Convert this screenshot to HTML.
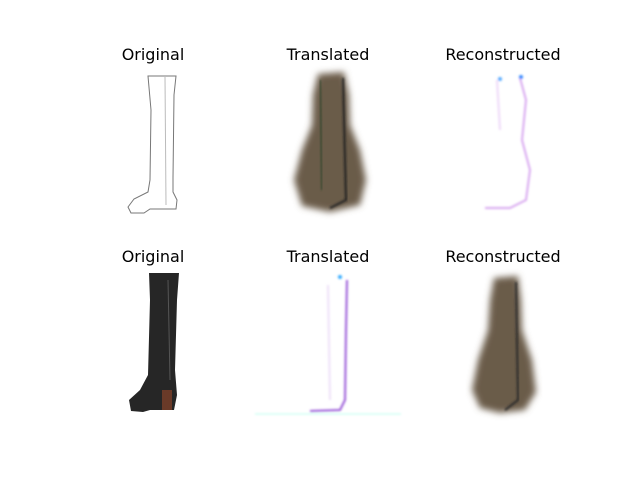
<!DOCTYPE html>
<html><head><meta charset="utf-8"><style>
body{margin:0;background:#fff;width:640px;height:480px;overflow:hidden}
text{font-family:"DejaVu Sans","Liberation Sans",sans-serif;font-size:16px;fill:#000}
</style></head><body>
<svg width="640" height="480" viewBox="0 0 640 480">
<defs>
<filter id="b4"><feGaussianBlur stdDeviation="3.5"/></filter>
<filter id="b1"><feGaussianBlur stdDeviation="1"/></filter>
</defs>
<rect width="640" height="480" fill="#fff"/>
<text x="153" y="60" text-anchor="middle">Original</text>
<text x="328" y="60" text-anchor="middle">Translated</text>
<text x="503" y="60" text-anchor="middle">Reconstructed</text>
<text x="153" y="262" text-anchor="middle">Original</text>
<text x="328" y="262" text-anchor="middle">Translated</text>
<text x="503" y="262" text-anchor="middle">Reconstructed</text>

<g fill="none" stroke="#777" stroke-width="1">
<path d="M148,76 L176,76 L174,95 L173,178 L173,192 L177,200 L176,209 L150,209 L144,213 L131,213 L128,207 L134,199 L148,192 L150,180 L151,110 Z"/>
<path d="M165,76 L166,205" stroke="#bbb"/>
</g>

<g>
<path d="M318,74 L344,72 L349,95 L350,125 L360,150 L366,180 L360,205 L330,212 L302,206 L294,180 L302,150 L312,125 L313,95 Z" fill="#6a5c48" filter="url(#b4)"/>
<path d="M343,78 L346,200 L330,208" stroke="#222" stroke-width="2" fill="none" filter="url(#b1)"/>
<path d="M320,80 L322,190" stroke="#3a4a30" stroke-width="2" fill="none" filter="url(#b1)"/>
</g>

<g fill="none" filter="url(#b1)">
<path d="M520,78 L526,100 L522,140 L530,170 L526,200 L510,208 L485,208" stroke="#d8a8f0" stroke-width="2"/>
<path d="M497,80 L500,130" stroke="#eed8f8" stroke-width="2"/>
<circle cx="500" cy="79" r="2" fill="#5af"/>
<circle cx="521" cy="77" r="2" fill="#38f"/>
</g>

<g>
<path d="M149,273 L179,273 L177,300 L175,370 L177,395 L174,410 L150,410 L143,412 L131,411 L129,400 L140,390 L148,375 L150,300 Z" fill="#262626"/>
<rect x="162" y="390" width="10" height="20" fill="#6a3a28"/>
<path d="M168,280 L170,380" stroke="#555" stroke-width="1"/>
</g>

<g fill="none" filter="url(#b1)">
<path d="M347,280 L346,330 L345,400 L340,410 L310,411" stroke="#9a5ad8" stroke-width="2"/>
<path d="M328,285 L330,400" stroke="#eee0f8" stroke-width="2"/>
<circle cx="340" cy="277" r="2" fill="#3af"/>
<line x1="255" y1="414" x2="401" y2="414" stroke="#bfe" stroke-width="1"/>
</g>

<g>
<path d="M494,278 L518,276 L521,300 L522,330 L532,360 L536,392 L525,410 L500,413 L480,408 L472,390 L478,360 L488,330 L490,300 Z" fill="#6a5c48" filter="url(#b4)"/>
<path d="M516,282 L518,400 L505,410" stroke="#2a2a2a" stroke-width="2" fill="none" filter="url(#b1)"/>
</g>
</svg>
</body></html>
